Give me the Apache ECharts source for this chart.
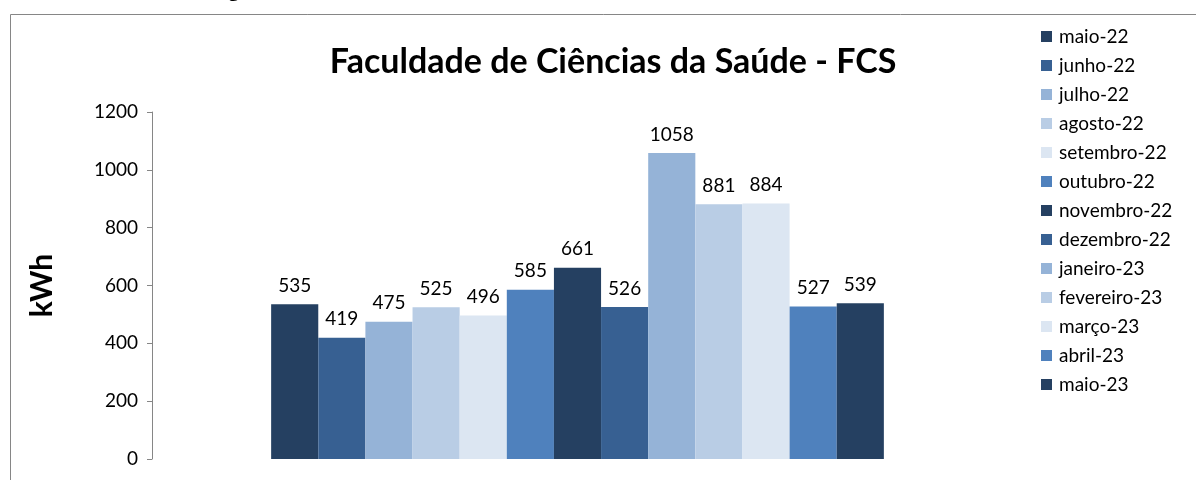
<!DOCTYPE html>
<html>
<head>
<meta charset="utf-8">
<script src="https://cdn.jsdelivr.net/npm/echarts@6/dist/echarts.min.js"></script>
<style>
  html, body { margin: 0; padding: 0; background: #fff; }
  #chart { width: 1196px; height: 480px; }
</style>
</head>
<body>
<div id="chart"></div>
<script>
const months = [
  'maio-22', 'junho-22', 'julho-22', 'agosto-22', 'setembro-22', 'outubro-22',
  'novembro-22', 'dezembro-22', 'janeiro-23', 'fevereiro-23', 'março-23', 'abril-23', 'maio-23'
];
const consumo = [535, 419, 475, 525, 496, 585, 661, 526, 1058, 881, 884, 527, 539];
const yTicks = [0, 200, 400, 600, 800, 1000, 1200];
const palette = ['#254061', '#376092', '#95B3D7', '#B9CDE5', '#DCE6F2', '#4F81BD'];

const font = 'Lato, "Open Sans", sans-serif';

const series = months.map((m, i) => ({
  name: m,
  type: 'bar',
  data: [consumo[i]],
  barGap: '0%',
  barCategoryGap: '28%',
  itemStyle: { color: palette[i % palette.length] },
  label: {
    show: true,
    position: 'top',
    distance: 9,
    color: '#000',
    fontFamily: font,
    fontSize: 19
  }
}));

const chart = echarts.init(document.getElementById('chart'));
chart.setOption({
  animation: false,
  textStyle: { fontFamily: font },
  graphic: [
    {
      type: 'rect',
      left: 8, top: 12,
      shape: { width: 1300, height: 600 },
      style: { fill: 'none', stroke: '#868686', lineWidth: 1 }
    },
    {
      type: 'text',
      left: 4, top: -20,
      style: {
        text: 'Consumo mensal de energia elétrica da UnB - FCS 2022/2023',
        fontSize: 21,
        fontWeight: 'bold',
        fontFamily: '"Liberation Serif", serif',
        fill: '#000'
      }
    }
  ],
  title: {
    text: 'Faculdade de Ciências da Saúde - FCS',
    left: 608, top: 40,
    textAlign: 'center',
    textStyle: { fontFamily: font, fontSize: 34, fontWeight: 'bold', color: '#000' }
  },
  legend: {
    orient: 'vertical',
    left: 1036, top: 22,
    itemWidth: 11, itemHeight: 11,
    itemGap: 10,
    icon: 'rect',
    data: months,
    textStyle: { fontFamily: font, fontSize: 19, color: '#000', padding: [0, 0, 0, 2] }
  },
  grid: { left: 152, right: 193, top: 112, bottom: 21, containLabel: false },
  xAxis: {
    type: 'category',
    data: [''],
    axisLine: { show: false },
    axisTick: { show: false },
    axisLabel: { show: false }
  },
  yAxis: {
    type: 'value',
    min: yTicks[0],
    max: yTicks[yTicks.length - 1],
    interval: 200,
    name: 'kWh',
    nameLocation: 'middle',
    nameGap: 95,
    nameTextStyle: { fontFamily: font, fontSize: 30, fontWeight: 'bold', color: '#000' },
    axisLine: { show: true, lineStyle: { color: '#868686' } },
    axisTick: { show: true, length: 5, lineStyle: { color: '#868686' } },
    axisLabel: { fontFamily: font, fontSize: 19, color: '#000', margin: 14, formatter: v => String(v) },
    splitLine: { show: false }
  },
  series: series
});
</script>
</body>
</html>
